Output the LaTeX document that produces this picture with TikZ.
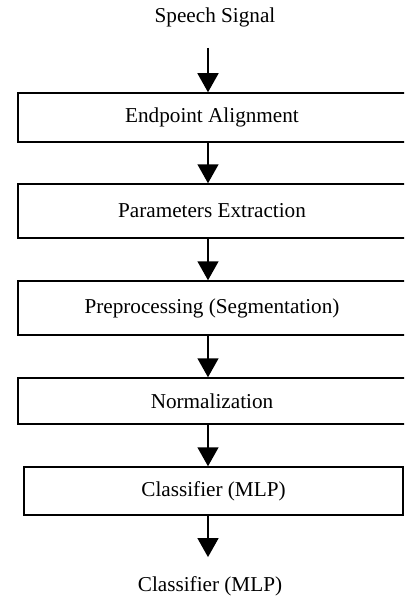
\documentclass[tikz,border=0pt]{standalone}
\usepackage{fontspec}
\setmainfont{Liberation Serif}
\usetikzlibrary{arrows.meta}
\begin{document}
\begin{tikzpicture}[x=1pt,y=-1pt,
  stage/.style={draw,line width=1.5pt,inner sep=0pt,minimum width=388pt,
    font=\fontsize{21.2}{25}\selectfont},
  label/.style={inner sep=0pt,font=\fontsize{21.2}{25}\selectfont},
  flow/.style={line width=1.5pt,-{Triangle[width=21pt,length=19pt]}}]
\useasboundingbox (0,0) rectangle (404,599);
\clip (0,0) rectangle (404,599);
\coordinate (ax) at (208,0);
\node[label] (s) at (215,17) {Speech Signal};
\node[stage,minimum height=49pt] (b1) at (212,117.5) {Endpoint Alignment};
\node[stage,minimum height=54pt] (b2) at (212,211) {Parameters Extraction};
\node[stage,minimum height=54pt] (b3) at (212,308) {Preprocessing (Segmentation)};
\node[stage,minimum height=46pt] (b4) at (212,401) {Normalization};
\node[stage,minimum height=48pt,minimum width=379pt] (b5) at (213.5,491) {Classifier (MLP)};
\node[label] (o) at (210,586) {Classifier (MLP)};
\draw[flow,shorten <=21pt] (s.south -| ax) -- (b1.north -| ax);
\draw[flow] (b1.south -| ax) -- (b2.north -| ax);
\draw[flow] (b2.south -| ax) -- (b3.north -| ax);
\draw[flow] (b3.south -| ax) -- (b4.north -| ax);
\draw[flow] (b4.south -| ax) -- (b5.north -| ax);
\draw[flow,shorten >=19pt] (b5.south -| ax) -- (o.north -| ax);
\end{tikzpicture}
\end{document}
